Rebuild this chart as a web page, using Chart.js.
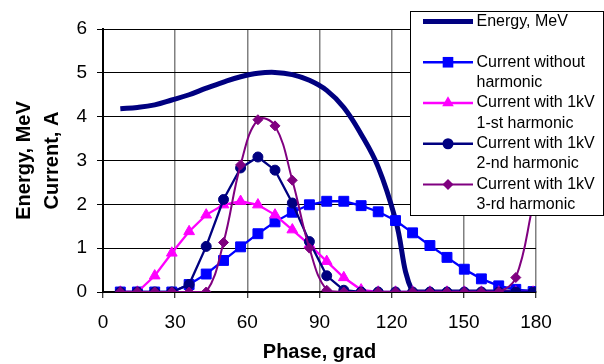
<!DOCTYPE html>
<html>
<head>
<meta charset="utf-8">
<script src="https://cdn.jsdelivr.net/npm/chart.js"></script>
<style>
  html, body { margin: 0; padding: 0; background: #fff; }
  canvas { display: block; }
</style>
</head>
<body>
<canvas id="chart" width="604" height="364"></canvas>
<script>
// phase points (grad)
const phase = [7.2, 14.3, 21.5, 28.6, 35.8, 42.9, 50.1, 57.2, 64.4, 71.5, 78.7, 85.8, 93.0,
  100.1, 107.3, 114.4, 121.6, 128.7, 135.9, 143.0, 150.2, 157.3, 164.5, 171.6, 178.8];

const energy = [4.18, 4.21, 4.27, 4.38, 4.50, 4.65, 4.79, 4.91, 4.99, 5.01, 4.96, 4.83, 4.60,
  4.21, 3.60, 2.85, 1.65, 0, 0, 0, 0, 0, 0, 0, 0];
const currentNoHarm = [0, 0, 0, 0, 0.17, 0.41, 0.72, 1.03, 1.33, 1.60, 1.82, 1.99, 2.07,
  2.07, 1.97, 1.83, 1.63, 1.35, 1.06, 0.79, 0.52, 0.30, 0.14, 0.06, 0.01];
const current1st = [0, 0, 0.37, 0.89, 1.38, 1.76, 1.99, 2.07, 1.99, 1.76, 1.42, 1.08, 0.70,
  0.33, 0.05, 0, 0, 0, 0, 0, 0, 0, 0, 0, 0];
const current2nd = [0, 0, 0, 0, 0.17, 1.04, 2.11, 2.83, 3.08, 2.78, 2.03, 1.15, 0.37,
  0.04, 0, 0, 0, 0, 0, 0, 0, 0, 0, 0, 0];
const current3rd = [0, 0, 0, 0, 0, 0, 1.13, 2.90, 3.93, 3.79, 2.55, 1.00, 0.04,
  0, 0, 0, 0, 0, 0, 0, 0, 0, 0, 0.33, 2.0];

const seriesLabels = [
  ['Energy, MeV', ''],
  ['Current without', 'harmonic'],
  ['Current with 1kV', '1-st harmonic'],
  ['Current with 1kV', '2-nd harmonic'],
  ['Current with 1kV', '3-rd harmonic']
];

const FONT = '"Liberation Sans", Arial, sans-serif';

function points(values) {
  return phase.map((x, i) => ({ x: x, y: values[i] }));
}

function drawMarker(c, style, x, y, r, color) {
  c.save();
  c.fillStyle = color;
  c.beginPath();
  if (style === 'rect') {
    const s = r * Math.SQRT1_2;
    c.rect(x - s, y - s, 2 * s, 2 * s);
  } else if (style === 'triangle') {
    c.moveTo(x, y - r);
    c.lineTo(x + r * Math.sin(2 * Math.PI / 3), y - r * Math.cos(2 * Math.PI / 3));
    c.lineTo(x + r * Math.sin(4 * Math.PI / 3), y - r * Math.cos(4 * Math.PI / 3));
    c.closePath();
  } else if (style === 'rectRot') {
    c.moveTo(x, y - r);
    c.lineTo(x + r, y);
    c.lineTo(x, y + r);
    c.lineTo(x - r, y);
    c.closePath();
  } else {
    c.arc(x, y, r, 0, Math.PI * 2);
  }
  c.fill();
  c.restore();
}

// boxed legend laid over the plot, two text lines per entry
const boxLegend = {
  id: 'boxLegend',
  afterDraw(chart) {
    const c = chart.ctx;
    c.save();
    c.fillStyle = '#fff';
    c.fillRect(410.5, 11.5, 193, 204);
    c.strokeStyle = '#000';
    c.lineWidth = 1;
    c.strokeRect(410.5, 11.5, 193, 204);
    c.font = '16px ' + FONT;
    c.textBaseline = 'middle';
    c.textAlign = 'left';
    chart.data.datasets.forEach((ds, i) => {
      const y = 21.5 + i * 40.75;
      c.strokeStyle = ds.borderColor;
      c.lineWidth = ds.borderWidth;
      c.beginPath();
      c.moveTo(423, y);
      c.lineTo(473, y);
      c.stroke();
      if (ds.pointRadius > 0) drawMarker(c, ds.pointStyle, 448, y, ds.pointRadius + 0.5, ds.backgroundColor);
      c.fillStyle = '#000';
      seriesLabels[i].forEach((t, j) => c.fillText(t, 476.5, y + j * 20.3));
    });
    c.restore();
  }
};

new Chart(document.getElementById('chart').getContext('2d'), {
  type: 'line',
  data: {
    datasets: [
      { label: seriesLabels[0].join(' '), data: points(energy), borderColor: '#000080', backgroundColor: '#000080',
        borderWidth: 5, pointRadius: 0, tension: 0.4, order: 5 },
      { label: seriesLabels[1].join(' '), data: points(currentNoHarm), borderColor: '#0000FF', backgroundColor: '#0000FF',
        borderWidth: 2.3, pointStyle: 'rect', pointRadius: 7, pointBorderWidth: 1, tension: 0, order: 4 },
      { label: seriesLabels[2].join(' '), data: points(current1st), borderColor: '#FF00FF', backgroundColor: '#FF00FF',
        borderWidth: 2.3, pointStyle: 'triangle', pointRadius: 6.2, pointBorderWidth: 1, tension: 0, order: 3 },
      { label: seriesLabels[3].join(' '), data: points(current2nd), borderColor: '#000080', backgroundColor: '#000080',
        borderWidth: 2.3, pointStyle: 'circle', pointRadius: 5, pointBorderWidth: 1, tension: 0, order: 2 },
      { label: seriesLabels[4].join(' '), data: points(current3rd), borderColor: '#800080', backgroundColor: '#800080',
        borderWidth: 2, pointStyle: 'rectRot', pointRadius: 5, pointBorderWidth: 1, tension: 0.4, order: 1 }
    ]
  },
  options: {
    responsive: false,
    animation: false,
    layout: { padding: { top: 29, right: 68, left: 0, bottom: 0 } },
    plugins: { legend: { display: false }, tooltip: { enabled: false } },
    scales: {
      x: {
        type: 'linear', min: 0, max: 180,
        afterFit(scale) { scale.height = 72; },
        ticks: { stepSize: 30, color: '#000', padding: 13, font: { family: FONT, size: 19 } },
        grid: { color: '#808080', lineWidth: 1.5, tickColor: '#000', tickLength: 6, tickWidth: 1 },
        border: { color: '#000', width: 2 },
        title: { display: true, text: 'Phase, grad', color: '#000', padding: { top: 0, bottom: 0 },
          font: { family: FONT, size: 20, weight: 'bold' } }
      },
      y: {
        min: 0, max: 6,
        afterFit(scale) { scale.width = 103; },
        ticks: { stepSize: 1, color: '#000', padding: 10, font: { family: FONT, size: 19 } },
        grid: { color: '#000', lineWidth: 1, tickColor: '#000', tickLength: 6, tickWidth: 1 },
        border: { color: '#000', width: 2 },
        title: { display: true, text: ['Energy, MeV', 'Current, A'], color: '#000', padding: { top: 10, bottom: 0 },
          font: { family: FONT, size: 20, weight: 'bold', lineHeight: 1.4 } }
      }
    }
  },
  plugins: [boxLegend]
});
</script>
</body>
</html>
